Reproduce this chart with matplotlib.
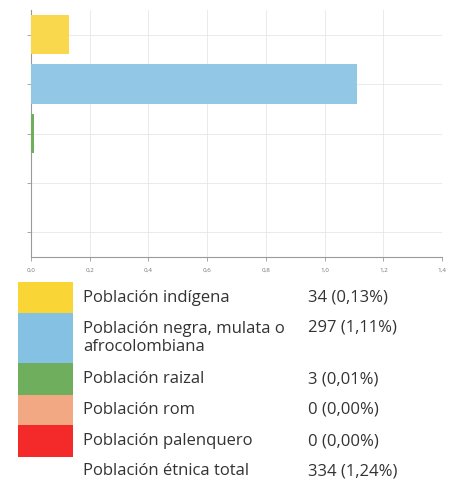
import matplotlib
matplotlib.use("Agg")
import matplotlib.pyplot as plt
from matplotlib.patches import Rectangle

categories = ["Población indígena", "Población negra, mulata o\nafrocolombiana",
              "Población raizal", "Población rom", "Población palenquero"]
percent = [0.13, 1.11, 0.01, 0.00, 0.00]
counts = [34, 297, 3, 0, 0]
colors = ["#F9D535", "#84C1E3", "#6FAE5C", "#F2A983", "#F42A2A"]
bar_colors = ["#F9D84E", "#93C7E6", "#6FAE5C", "#F2A983", "#F42A2A"]
total_label = "Población étnica total"
total_count = 334
total_percent = 1.24
xticks = [0.0, 0.2, 0.4, 0.6, 0.8, 1.0, 1.2, 1.4]

W, H = 452, 483
fig = plt.figure(figsize=(W / 100, H / 100), dpi=100)
fig.patch.set_facecolor("white")
plt.rcParams["font.family"] = ["Open Sans", "DejaVu Sans"]

ax = fig.add_axes([31 / W, 1 - 257 / H, (442 - 31) / W, (257 - 10) / H])
y = list(range(len(categories)))
ax.barh(y, percent, height=0.8, color=bar_colors, zorder=3)
ax.set_xlim(0, 1.4)
ax.set_ylim(4.5, -0.5)
ax.set_yticks(y)
ax.set_yticklabels([])
ax.set_xticks(xticks)
ax.set_xticklabels([f"{v:.1f}".replace(".", ",") for v in xticks], fontsize=4.5, color="#777777")
ax.grid(True, color="#E6E6E6", linewidth=0.6, zorder=0)
for s in ["top", "right"]:
    ax.spines[s].set_visible(False)
for s in ["left", "bottom"]:
    ax.spines[s].set_color("#9A9A9A")
    ax.spines[s].set_linewidth(0.8)
ax.tick_params(axis="both", length=3, width=0.6, color="#9A9A9A", pad=5)

# legend table
row_tops = [282, 313, 363, 395, 425]
row_bots = [313, 363, 395, 425, 457]
text_color = "#333333"
fs = 12
for i, cat in enumerate(categories):
    t, b = row_tops[i], row_bots[i]
    fig.patches.append(Rectangle((18 / W, 1 - b / H), (73 - 18) / W, (b - t) / H,
                                 transform=fig.transFigure, facecolor=colors[i],
                                 edgecolor="none"))
    yc = (t + b) / 2
    fig.text(83 / W, 1 - yc / H, cat, fontsize=fs, color=text_color, va="center",
             ha="left", linespacing=1.1)
    fig.text(308 / W, 1 - (yc if i != 1 else t + 14) / H,
             f"{counts[i]} ({percent[i]:.2f}%)".replace(".", ","),
             fontsize=fs, color=text_color, va="center", ha="left")
fig.text(83 / W, 1 - 471 / H, total_label, fontsize=fs, color=text_color, va="center")
fig.text(308 / W, 1 - 471 / H, f"{total_count} ({total_percent:.2f}%)".replace(".", ","),
         fontsize=fs, color=text_color, va="center")

fig.savefig("out.png", dpi=100)
